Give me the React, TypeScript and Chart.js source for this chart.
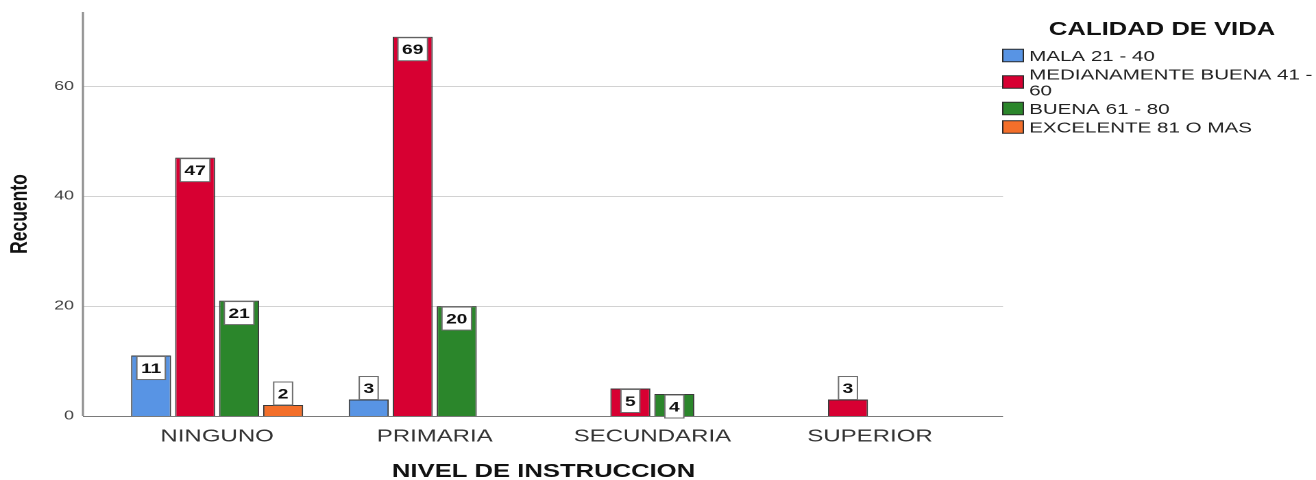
import React, { useEffect, useRef } from 'react';
import { Chart, registerables } from 'chart.js';

Chart.register(...registerables);

const categories = ['NINGUNO', 'PRIMARIA', 'SECUNDARIA', 'SUPERIOR'];
const seriesLabels = ['MALA 21 - 40', 'MEDIANAMENTE BUENA 41 - 60', 'BUENA 61 - 80', 'EXCELENTE 81 O MAS'];
const malaValues: (number | null)[] = [11, 3, null, null];
const medianamenteValues: (number | null)[] = [47, 69, 5, 3];
const buenaValues: (number | null)[] = [21, 20, 4, null];
const excelenteValues: (number | null)[] = [2, null, null, null];
const seriesColors = ['#5894e4', '#d70032', '#2b862b', '#f36f2a'];
const yTicks = [0, 20, 40, 60];
const yMax = 73.5;
const legendTitle = 'CALIDAD DE VIDA';
const xTitle = 'NIVEL DE INSTRUCCION';
const yTitle = 'Recuento';

const FONT = '"Liberation Sans", Arial, sans-serif';
// logical canvas size; stretched horizontally by CSS like the reference
const LW = 960;
const LH = 480;
const CSS_W = 1316;

const gridPlugin = {
  id: 'gridPlugin',
  beforeDatasetsDraw(chart: any) {
    const { ctx, chartArea } = chart;
    const ys = chart.scales.y;
    const x0 = chartArea.left - 18.5;
    const x1 = chartArea.right + 17.7;
    ctx.save();
    ctx.strokeStyle = '#d2d2d2';
    ctx.lineWidth = 1;
    yTicks.forEach((v) => {
      if (v === 0) return;
      const y = Math.round(ys.getPixelForValue(v)) + 0.5;
      ctx.beginPath();
      ctx.moveTo(x0, y);
      ctx.lineTo(x1, y);
      ctx.stroke();
    });
    ctx.strokeStyle = '#8c8c8c';
    ctx.lineWidth = 1.5;
    ctx.beginPath();
    ctx.moveTo(x0, chartArea.top);
    ctx.lineTo(x0, ys.getPixelForValue(0));
    ctx.stroke();
    ctx.restore();
  },
  afterDatasetsDraw(chart: any) {
    const { ctx, chartArea } = chart;
    const ys = chart.scales.y;
    const x0 = chartArea.left - 18.5;
    const x1 = chartArea.right + 17.7;
    ctx.save();
    ctx.strokeStyle = '#7a7a7a';
    ctx.lineWidth = 1;
    const y = Math.round(ys.getPixelForValue(0)) + 0.5;
    ctx.beginPath();
    ctx.moveTo(x0, y);
    ctx.lineTo(x1, y);
    ctx.stroke();

    // value labels
    ctx.font = `bold 14px ${FONT}`;
    ctx.textAlign = 'center';
    ctx.textBaseline = 'middle';
    chart.data.datasets.forEach((ds: any, di: number) => {
      const meta = chart.getDatasetMeta(di);
      meta.data.forEach((el: any, i: number) => {
        const v = ds.data[i];
        if (v === null || v === undefined) return;
        const { x, y: top, base } = el.getProps(['x', 'y', 'base'], true);
        const text = String(v);
        const tw = ctx.measureText(text).width;
        const bw = tw + 6;
        const bh = 23;
        const h = base - top;
        const by = h >= 20 ? top + 1 : top - bh;
        ctx.fillStyle = '#ffffff';
        ctx.fillRect(x - bw / 2, by, bw, bh);
        ctx.strokeStyle = '#6e6e6e';
        ctx.lineWidth = 1;
        ctx.strokeRect(x - bw / 2, by, bw, bh);
        ctx.fillStyle = '#111111';
        ctx.fillText(text, x, by + bh / 2 + 1);
      });
    });
    ctx.restore();
  },
};

function wrapText(ctx: CanvasRenderingContext2D, text: string, maxW: number): string[] {
  const words = text.split(' ');
  const lines: string[] = [];
  let cur = '';
  words.forEach((w) => {
    const test = cur ? cur + ' ' + w : w;
    if (ctx.measureText(test).width > maxW && cur) {
      lines.push(cur);
      cur = w;
    } else {
      cur = test;
    }
  });
  if (cur) lines.push(cur);
  return lines;
}

const legendPlugin = {
  id: 'legendPlugin',
  afterDraw(chart: any) {
    const { ctx } = chart;
    ctx.save();
    ctx.fillStyle = '#111111';
    ctx.font = `bold 18.7px ${FONT}`;
    ctx.textAlign = 'center';
    ctx.textBaseline = 'middle';
    ctx.fillText(legendTitle, 847.7, 30);

    ctx.font = `15px ${FONT}`;
    ctx.textAlign = 'left';
    const boxX = 731.5;
    const boxW = 15;
    const boxH = 12.5;
    const textX = 750.7;
    const lineH = 16;
    let top = 49;
    chart.data.datasets.forEach((ds: any) => {
      const lines = wrapText(ctx, ds.label, 209);
      const blockH = lines.length * lineH;
      const cy = top + blockH / 2 - 1.5;
      ctx.fillStyle = ds.backgroundColor;
      ctx.fillRect(boxX, cy - boxH / 2, boxW, boxH);
      ctx.strokeStyle = '#2a2a2a';
      ctx.lineWidth = 1;
      ctx.strokeRect(boxX, cy - boxH / 2, boxW, boxH);
      ctx.fillStyle = '#222222';
      lines.forEach((ln, li) => {
        ctx.fillText(ln, textX, top + lineH / 2 + li * lineH);
      });
      top += blockH + 2.5;
    });
    ctx.restore();
  },
};

export default function App() {
  const ref = useRef<HTMLCanvasElement | null>(null);

  useEffect(() => {
    if (!ref.current) return;
    Chart.defaults.font.family = FONT;
    const allSeries = [malaValues, medianamenteValues, buenaValues, excelenteValues];
    const chart = new Chart(ref.current, {
      type: 'bar',
      data: {
        labels: categories,
        datasets: allSeries.map((vals, i) => ({
          label: seriesLabels[i],
          data: vals,
          backgroundColor: seriesColors[i],
          borderColor: '#3a3a3a',
          borderWidth: 1,
          categoryPercentage: 0.809,
          barPercentage: 0.909,
        })),
      },
      options: {
        responsive: false,
        animation: false,
        devicePixelRatio: 2,
        layout: { padding: { top: 12, right: 246, left: 0, bottom: 0 } },
        plugins: {
          legend: { display: false },
          tooltip: { enabled: false },
        },
        scales: {
          x: {
            grid: { display: false },
            border: { display: false },
            ticks: { font: { family: FONT, size: 17.5 }, color: '#333333', padding: 2 },
            title: {
              display: true,
              text: xTitle,
              font: { family: FONT, size: 18.7, weight: 'bold' },
              color: '#111111',
              padding: -3,
            },
            afterFit: (s: any) => {
              s.height = 64;
              s.paddingLeft = 0;
              s.paddingRight = 0;
            },
          },
          y: {
            min: 0,
            max: yMax,
            grid: { display: false },
            border: { display: false },
            ticks: { font: { family: FONT, size: 13 }, color: '#404040', padding: 17 },
            afterBuildTicks: (s: any) => {
              s.ticks = yTicks.map((v) => ({ value: v }));
            },
            title: {
              display: true,
              text: yTitle,
              font: { family: FONT, size: 17.5, weight: 'bold' },
              color: '#111111',
              padding: { top: 4, bottom: 0 },
            },
            afterFit: (s: any) => {
              s.width = 79;
              s.paddingTop = 0;
              s.paddingBottom = 0;
            },
          },
        },
      } as any,
      plugins: [gridPlugin, legendPlugin],
    });
    return () => chart.destroy();
  }, []);

  return (
    <div style={{ position: 'absolute', left: 0, top: 0, width: CSS_W, height: LH, background: '#fff' }}>
      <canvas ref={ref} width={LW} height={LH} style={{ width: `${CSS_W}px`, height: `${LH}px`, display: 'block' }} />
    </div>
  );
}
